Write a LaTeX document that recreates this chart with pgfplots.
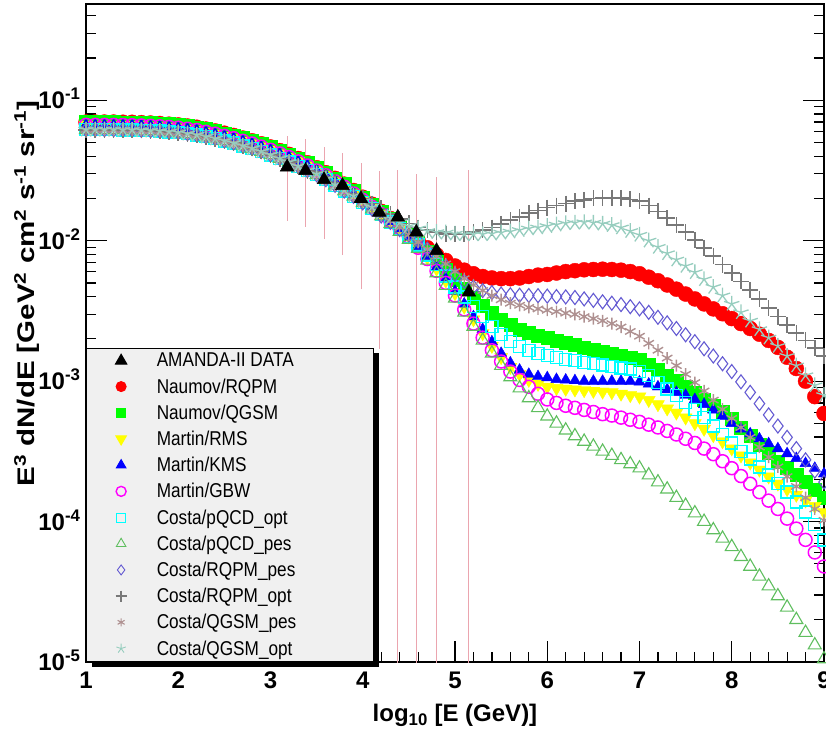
\documentclass[border=0pt]{standalone}
\usepackage{fontspec}
\setmainfont{Liberation Sans}
\usepackage{pgfplots}
\usepackage{pgfplotstable}
\pgfplotsset{compat=1.18}
\usetikzlibrary{shadows}
\definecolor{errpink}{RGB}{235,165,175}
\definecolor{lgray}{RGB}{240,240,240}
\definecolor{cred}{RGB}{255,0,0}
\definecolor{cgreen}{RGB}{0,255,0}
\definecolor{cyellow}{RGB}{255,255,0}
\definecolor{cblue}{RGB}{0,0,255}
\definecolor{cmagenta}{RGB}{255,0,255}
\definecolor{ccyan}{RGB}{0,255,255}
\definecolor{pqpcol}{RGB}{95,190,95}
\definecolor{rqpcol}{RGB}{100,90,210}
\definecolor{rqocol}{RGB}{120,120,120}
\definecolor{qgpcol}{RGB}{175,145,145}
\definecolor{qgocol}{RGB}{150,205,190}
\newcommand{\lt}[1]{\scalebox{0.86}[1]{#1}}
\pgfplotstableread{
x nr nq rms kms gbw pqo pqp rqp rqo qgp qgo
1.0 0.0700 0.0700 0.0668 0.0668 0.0668 0.0617 0.0617 0.0617 0.0617 0.0617 0.0617
1.1 0.0700 0.0700 0.0668 0.0668 0.0668 0.0617 0.0617 0.0617 0.0617 0.0617 0.0617
1.2 0.0700 0.0700 0.0668 0.0668 0.0668 0.0617 0.0617 0.0617 0.0617 0.0617 0.0617
1.3 0.0700 0.0700 0.0668 0.0668 0.0668 0.0617 0.0617 0.0617 0.0617 0.0617 0.0617
1.4 0.0698 0.0698 0.0667 0.0667 0.0667 0.0615 0.0615 0.0615 0.0615 0.0615 0.0615
1.5 0.0697 0.0697 0.0665 0.0665 0.0665 0.0614 0.0614 0.0614 0.0614 0.0614 0.0614
1.6 0.0693 0.0693 0.0662 0.0662 0.0662 0.0611 0.0611 0.0611 0.0611 0.0611 0.0611
1.7 0.0689 0.0689 0.0658 0.0658 0.0658 0.0607 0.0607 0.0607 0.0607 0.0607 0.0607
1.8 0.0684 0.0684 0.0653 0.0653 0.0653 0.0603 0.0603 0.0603 0.0603 0.0603 0.0603
1.9 0.0676 0.0676 0.0646 0.0646 0.0646 0.0596 0.0596 0.0596 0.0596 0.0596 0.0596
2.0 0.0668 0.0668 0.0638 0.0638 0.0638 0.0589 0.0589 0.0589 0.0589 0.0589 0.0589
2.1 0.0656 0.0656 0.0627 0.0627 0.0627 0.0578 0.0578 0.0578 0.0578 0.0578 0.0578
2.2 0.0643 0.0643 0.0614 0.0614 0.0614 0.0566 0.0566 0.0566 0.0566 0.0566 0.0566
2.3 0.0624 0.0624 0.0596 0.0596 0.0596 0.0550 0.0550 0.0550 0.0550 0.0550 0.0550
2.4 0.0605 0.0605 0.0578 0.0578 0.0578 0.0533 0.0533 0.0533 0.0533 0.0533 0.0533
2.5 0.0583 0.0583 0.0557 0.0557 0.0557 0.0514 0.0514 0.0514 0.0514 0.0514 0.0514
2.6 0.0562 0.0562 0.0537 0.0537 0.0537 0.0495 0.0495 0.0495 0.0495 0.0495 0.0495
2.7 0.0538 0.0538 0.0514 0.0514 0.0514 0.0474 0.0474 0.0474 0.0474 0.0474 0.0474
2.8 0.0515 0.0515 0.0492 0.0492 0.0492 0.0454 0.0454 0.0454 0.0454 0.0454 0.0454
2.9 0.0490 0.0490 0.0468 0.0468 0.0468 0.0432 0.0432 0.0432 0.0432 0.0432 0.0432
3.0 0.0465 0.0465 0.0444 0.0444 0.0444 0.0409 0.0409 0.0409 0.0409 0.0409 0.0409
3.1 0.0438 0.0438 0.0418 0.0418 0.0418 0.0385 0.0385 0.0385 0.0385 0.0385 0.0385
3.2 0.0412 0.0412 0.0394 0.0394 0.0394 0.0363 0.0363 0.0363 0.0363 0.0363 0.0363
3.3 0.0385 0.0385 0.0367 0.0367 0.0367 0.0339 0.0339 0.0339 0.0339 0.0339 0.0339
3.4 0.0359 0.0359 0.0343 0.0343 0.0343 0.0316 0.0316 0.0316 0.0316 0.0316 0.0316
3.5 0.0331 0.0331 0.0316 0.0316 0.0316 0.0295 0.0295 0.0295 0.0309 0.0295 0.0299
3.6 0.0305 0.0305 0.0292 0.0292 0.0292 0.0272 0.0272 0.0272 0.0285 0.0272 0.0275
3.7 0.0278 0.0278 0.0265 0.0265 0.0265 0.0248 0.0248 0.0248 0.0260 0.0248 0.0251
3.8 0.0253 0.0253 0.0242 0.0242 0.0242 0.0226 0.0226 0.0226 0.0237 0.0226 0.0229
3.9 0.0228 0.0228 0.0217 0.0217 0.0217 0.0207 0.0207 0.0207 0.0216 0.0207 0.0209
4.0 0.0204 0.0204 0.0195 0.0195 0.0195 0.0188 0.0186 0.0186 0.0200 0.0188 0.0191
4.1 0.0182 0.0182 0.0174 0.0174 0.0174 0.0170 0.0168 0.0168 0.0184 0.0170 0.0174
4.2 0.0162 0.0162 0.0155 0.0155 0.0155 0.0153 0.0150 0.0150 0.0170 0.0153 0.0158
4.3 0.0144 0.0144 0.0137 0.0137 0.0137 0.0136 0.0132 0.0135 0.0155 0.0138 0.0145
4.4 0.0127 0.0127 0.0122 0.0122 0.0122 0.0122 0.0116 0.0120 0.0143 0.0124 0.0135
4.5 0.0112 0.0112 0.0107 0.0107 0.0107 0.0107 0.0102 0.0110 0.0133 0.0110 0.0127
4.6 1.00e-2 9.66e-3 9.02e-3 9.12e-3 8.91e-3 9.33e-3 8.81e-3 1.00e-2 1.24e-2 9.77e-3 1.22e-2
4.7 8.91e-3 8.32e-3 7.59e-3 7.76e-3 7.41e-3 7.94e-3 7.24e-3 8.71e-3 1.19e-2 8.71e-3 1.17e-2
4.8 7.94e-3 7.16e-3 6.31e-3 6.46e-3 6.10e-3 6.76e-3 5.89e-3 7.59e-3 1.15e-2 7.76e-3 1.15e-2
4.9 7.24e-3 6.17e-3 5.19e-3 5.37e-3 5.01e-3 5.62e-3 4.79e-3 6.61e-3 1.12e-2 6.84e-3 1.14e-2
5.0 6.61e-3 5.31e-3 4.22e-3 4.37e-3 4.07e-3 4.68e-3 3.89e-3 5.75e-3 1.12e-2 6.03e-3 1.12e-2
5.1 6.17e-3 4.57e-3 3.39e-3 3.55e-3 3.24e-3 3.98e-3 3.09e-3 5.13e-3 1.12e-2 5.37e-3 1.11e-2
5.2 5.82e-3 3.94e-3 2.75e-3 2.88e-3 2.57e-3 3.39e-3 2.45e-3 4.68e-3 1.15e-2 4.84e-3 1.11e-2
5.3 5.56e-3 3.47e-3 2.19e-3 2.34e-3 2.04e-3 2.88e-3 1.95e-3 4.42e-3 1.19e-2 4.42e-3 1.11e-2
5.4 5.43e-3 3.09e-3 1.78e-3 1.91e-3 1.66e-3 2.45e-3 1.58e-3 4.27e-3 1.24e-2 4.07e-3 1.12e-2
5.5 5.37e-3 2.75e-3 1.48e-3 1.58e-3 1.38e-3 2.14e-3 1.29e-3 4.17e-3 1.32e-2 3.80e-3 1.14e-2
5.6 5.37e-3 2.51e-3 1.26e-3 1.35e-3 1.17e-3 1.91e-3 1.07e-3 4.12e-3 1.40e-2 3.59e-3 1.16e-2
5.7 5.43e-3 2.34e-3 1.12e-3 1.20e-3 1.02e-3 1.76e-3 8.91e-4 4.09e-3 1.48e-2 3.47e-3 1.19e-2
5.8 5.56e-3 2.21e-3 1.02e-3 1.12e-3 9.12e-4 1.66e-3 7.59e-4 4.07e-3 1.57e-2 3.35e-3 1.22e-2
5.9 5.69e-3 2.11e-3 9.55e-4 1.08e-3 8.13e-4 1.58e-3 6.46e-4 4.06e-3 1.64e-2 3.27e-3 1.24e-2
6.0 5.75e-3 2.04e-3 9.12e-4 1.06e-3 7.41e-4 1.53e-3 5.62e-4 4.03e-3 1.72e-2 3.20e-3 1.27e-2
6.1 5.89e-3 1.95e-3 8.91e-4 1.03e-3 7.00e-4 1.48e-3 5.01e-4 4.00e-3 1.78e-2 3.13e-3 1.30e-2
6.2 6.03e-3 1.88e-3 8.81e-4 1.02e-3 6.68e-4 1.43e-3 4.47e-4 3.98e-3 1.84e-2 3.05e-3 1.33e-2
6.3 6.12e-3 1.82e-3 8.71e-4 1.01e-3 6.46e-4 1.40e-3 4.07e-4 3.94e-3 1.91e-2 2.99e-3 1.34e-2
6.4 6.21e-3 1.74e-3 8.61e-4 1.00e-3 6.24e-4 1.36e-3 3.72e-4 3.85e-3 1.95e-2 2.88e-3 1.35e-2
6.5 6.24e-3 1.68e-3 8.51e-4 1.00e-3 6.03e-4 1.33e-3 3.43e-4 3.76e-3 2.00e-2 2.79e-3 1.34e-2
6.6 6.27e-3 1.62e-3 8.41e-4 1.00e-3 5.82e-4 1.30e-3 3.16e-4 3.67e-3 2.02e-2 2.69e-3 1.32e-2
6.7 6.24e-3 1.57e-3 8.32e-4 1.00e-3 5.69e-4 1.27e-3 2.95e-4 3.59e-3 2.03e-2 2.57e-3 1.29e-2
6.8 6.17e-3 1.51e-3 8.13e-4 1.00e-3 5.50e-4 1.24e-3 2.75e-4 3.51e-3 2.02e-2 2.43e-3 1.24e-2
6.9 6.03e-3 1.46e-3 7.94e-4 1.00e-3 5.31e-4 1.22e-3 2.57e-4 3.39e-3 1.97e-2 2.26e-3 1.17e-2
7.0 5.82e-3 1.41e-3 7.76e-4 9.89e-4 5.13e-4 1.17e-3 2.40e-4 3.27e-3 1.91e-2 2.09e-3 1.10e-2
7.1 5.50e-3 1.32e-3 7.33e-4 9.55e-4 4.90e-4 1.10e-3 2.14e-4 3.09e-3 1.78e-2 1.86e-3 1.00e-2
7.2 5.19e-3 1.20e-3 6.84e-4 9.12e-4 4.68e-4 9.77e-4 1.91e-4 2.85e-3 1.62e-2 1.66e-3 9.02e-3
7.3 4.84e-3 1.10e-3 6.38e-4 8.71e-4 4.42e-4 8.81e-4 1.70e-4 2.60e-3 1.45e-2 1.46e-3 8.13e-3
7.4 4.52e-3 1.00e-3 5.96e-4 8.32e-4 4.17e-4 7.94e-4 1.48e-4 2.37e-3 1.29e-2 1.29e-3 7.33e-3
7.5 4.17e-3 9.12e-4 5.50e-4 7.94e-4 3.89e-4 7.08e-4 1.30e-4 2.14e-3 1.15e-2 1.12e-3 6.61e-3
7.6 3.85e-3 8.22e-4 5.01e-4 7.41e-4 3.63e-4 6.31e-4 1.15e-4 1.91e-3 1.01e-2 9.77e-4 5.96e-3
7.7 3.55e-3 7.41e-4 4.57e-4 6.84e-4 3.31e-4 5.50e-4 1.00e-4 1.70e-3 8.91e-3 8.51e-4 5.31e-3
7.8 3.27e-3 6.68e-4 4.12e-4 6.24e-4 3.02e-4 4.79e-4 8.71e-5 1.51e-3 7.76e-3 7.33e-4 4.68e-3
7.9 3.02e-3 6.03e-4 3.72e-4 5.62e-4 2.69e-4 4.17e-4 7.59e-5 1.33e-3 6.76e-3 6.31e-4 4.07e-3
8.0 2.79e-3 5.37e-4 3.31e-4 5.01e-4 2.40e-4 3.63e-4 6.61e-5 1.17e-3 5.89e-3 5.43e-4 3.55e-3
8.1 2.57e-3 4.68e-4 2.95e-4 4.57e-4 2.11e-4 3.16e-4 5.62e-5 9.89e-4 5.13e-3 4.68e-4 3.09e-3
8.2 2.37e-3 4.07e-4 2.63e-4 4.22e-4 1.86e-4 2.79e-4 4.79e-5 8.32e-4 4.47e-3 3.98e-4 2.69e-3
8.3 2.16e-3 3.55e-4 2.34e-4 3.89e-4 1.62e-4 2.45e-4 4.07e-5 6.92e-4 3.85e-3 3.39e-4 2.34e-3
8.4 1.95e-3 3.09e-4 2.09e-4 3.59e-4 1.41e-4 2.14e-4 3.47e-5 5.75e-4 3.31e-3 2.88e-4 2.04e-3
8.5 1.74e-3 2.69e-4 1.86e-4 3.31e-4 1.23e-4 1.86e-4 2.95e-5 4.79e-4 2.88e-3 2.45e-4 1.78e-3
8.6 1.48e-3 2.40e-4 1.70e-4 3.05e-4 1.05e-4 1.62e-4 2.45e-5 3.98e-4 2.51e-3 2.09e-4 1.51e-3
8.7 1.23e-3 2.14e-4 1.55e-4 2.82e-4 8.91e-5 1.38e-4 2.00e-5 3.31e-4 2.21e-3 1.78e-4 1.29e-3
8.8 1.00e-3 1.91e-4 1.41e-4 2.60e-4 7.41e-5 1.17e-4 1.62e-5 2.75e-4 1.95e-3 1.48e-4 1.10e-3
8.9 7.76e-4 1.70e-4 1.29e-4 2.40e-4 6.03e-5 9.55e-5 1.32e-5 2.29e-4 1.72e-3 1.23e-4 9.33e-4
9.0 5.89e-4 1.48e-4 1.17e-4 2.19e-4 4.79e-5 7.41e-5 1.05e-5 1.91e-4 1.51e-3 1.02e-4 7.94e-4
}\tbl
\begin{document}
\begin{tikzpicture}
\begin{axis}[
  at={(86pt,76pt)}, anchor=south west,
  scale only axis, width=738pt, height=658pt,
  xmin=1, xmax=9, ymode=log, ymin=1e-5, ymax=0.485,
  xtick={1,2,3,4,5,6,7,8,9}, xticklabels={1,2,3,4,5,6,7,8,9},
  minor x tick num=4,
  ytick={1e-5,1e-4,1e-3,1e-2,1e-1},
  yticklabels={\textbf{10}\textsuperscript{\textbf{-5}},\textbf{10}\textsuperscript{\textbf{-4}},\textbf{10}\textsuperscript{\textbf{-3}},\textbf{10}\textsuperscript{\textbf{-2}},\textbf{10}\textsuperscript{\textbf{-1}}},
  minor ytick={2e-5,3e-5,4e-5,5e-5,6e-5,7e-5,8e-5,9e-5,2e-4,3e-4,4e-4,5e-4,6e-4,7e-4,8e-4,9e-4,2e-3,3e-3,4e-3,5e-3,6e-3,7e-3,8e-3,9e-3,2e-2,3e-2,4e-2,5e-2,6e-2,7e-2,8e-2,9e-2,2e-1,3e-1,4e-1},
  xtick pos=left, ytick pos=both,
  tick align=inside,
  major tick length=21pt, minor tick length=10pt,
  every tick/.style={black, line width=1.2pt},
  axis line style={line width=1.2pt},
  xticklabel style={font=\fontsize{24}{28}\selectfont\bfseries, yshift=-6pt},
  yticklabel style={font=\fontsize{24}{28}\selectfont, anchor=base east, yshift=-8.5pt, xshift=-2pt},
  xlabel={\textbf{log\textsubscript{10} [E (GeV)]}},
  xlabel style={font=\fontsize{24}{28}\selectfont, at={(axis description cs:0.5,-0.081)}, anchor=center},
  ylabel={\scalebox{1.23}[1]{\textbf{E\textsuperscript{3} dN/dE [GeV\textsuperscript{2} cm\textsuperscript{2} s\textsuperscript{-1} sr\textsuperscript{-1}]}}},
  ylabel style={font=\fontsize{24}{28}\selectfont, at={(axis description cs:-0.08,0.56)}, anchor=center},
  legend cell align=left,
  legend style={at={(0,0)}, anchor=south west, draw=black, line width=1pt, fill=lgray,
    font=\fontsize{20}{23}\selectfont, inner xsep=29pt, inner ysep=3pt, row sep=6.2pt, column sep=28pt,
    drop shadow={shadow xshift=5pt, shadow yshift=-5pt, fill=black, opacity=1}},
]
% AMANDA-II error bars
\addplot[forget plot, errpink, line width=0.8pt] coordinates {(3.18,0.0139) (3.18,0.0553)};
\addplot[forget plot, errpink, line width=0.8pt] coordinates {(3.38,0.0126) (3.38,0.0532)};
\addplot[forget plot, errpink, line width=0.8pt] coordinates {(3.58,0.0103) (3.58,0.0464)};
\addplot[forget plot, errpink, line width=0.8pt] coordinates {(3.78,0.0079) (3.78,0.0420)};
\addplot[forget plot, errpink, line width=0.8pt] coordinates {(3.98,0.0045) (3.98,0.0357)};
\addplot[forget plot, errpink, line width=0.8pt] coordinates {(4.18,0.0017) (4.18,0.0316)};
\addplot[forget plot, errpink, line width=0.8pt] coordinates {(4.38,1e-6) (4.38,0.0320)};
\addplot[forget plot, errpink, line width=0.8pt] coordinates {(4.58,1e-6) (4.58,0.0300)};
\addplot[forget plot, errpink, line width=0.8pt] coordinates {(4.80,1e-6) (4.80,0.0286)};
\addplot[forget plot, errpink, line width=0.8pt] coordinates {(5.15,1e-6) (5.15,0.0320)};
% models
\addplot[forget plot, only marks, mark=*, mark size=7.5pt, color=cred] table[x=x,y=nr]{\tbl};
\addplot[forget plot, only marks, mark=square*, mark size=6.5pt, color=cgreen] table[x=x,y=nq]{\tbl};
\addplot[forget plot, only marks, mark=triangle*, mark size=7.5pt, color=cyellow, mark options={rotate=180}] table[x=x,y=rms]{\tbl};
\addplot[forget plot, only marks, mark=triangle*, mark size=6.5pt, color=cblue] table[x=x,y=kms]{\tbl};
\addplot[forget plot, only marks, mark=o, mark size=6.5pt, color=cmagenta, line width=1.5pt] table[x=x,y=gbw]{\tbl};
\addplot[forget plot, only marks, mark=square, mark size=6pt, color=ccyan, line width=1.4pt] table[x=x,y=pqo]{\tbl};
\addplot[forget plot, only marks, mark=triangle, mark size=7.5pt, color=pqpcol, line width=1.1pt] table[x=x,y=pqp]{\tbl};
\addplot[forget plot, only marks, mark=diamond, mark size=7pt, color=rqpcol, line width=1.1pt] table[x=x,y=rqp]{\tbl};
\addplot[forget plot, only marks, mark=+, mark size=8pt, color=rqocol, line width=1.6pt] table[x=x,y=rqo]{\tbl};
\addplot[forget plot, only marks, mark=asterisk, mark size=6pt, color=qgpcol, line width=1.4pt] table[x=x,y=qgp]{\tbl};
\addplot[forget plot, only marks, mark=star, mark size=8pt, color=qgocol, line width=1.3pt] table[x=x,y=qgo]{\tbl};
% AMANDA-II data
\addplot[forget plot, only marks, mark=triangle*, mark size=8pt, black] coordinates {(3.18,0.0334) (3.38,0.0316) (3.58,0.0272) (3.78,0.0247) (3.98,0.0199) (4.18,0.0159) (4.38,0.0147) (4.58,0.0115) (4.80,0.0085) (5.15,0.0043)};
% legend
\addlegendimage{only marks, mark=triangle*, mark size=6.5pt, black}
\addlegendentry{\makebox[186pt][l]{\lt{AMANDA-II DATA}}}
\addlegendimage{only marks, mark=*, mark size=5pt, color=cred}
\addlegendentry{\lt{Naumov/RQPM}}
\addlegendimage{only marks, mark=square*, mark size=4.5pt, color=cgreen}
\addlegendentry{\lt{Naumov/QGSM}}
\addlegendimage{only marks, mark=triangle*, mark size=6pt, color=cyellow, mark options={rotate=180}}
\addlegendentry{\lt{Martin/RMS}}
\addlegendimage{only marks, mark=triangle*, mark size=5.5pt, color=cblue}
\addlegendentry{\lt{Martin/KMS}}
\addlegendimage{only marks, mark=o, mark size=5pt, color=cmagenta, line width=1.4pt}
\addlegendentry{\lt{Martin/GBW}}
\addlegendimage{only marks, mark=square, mark size=4.5pt, color=ccyan, line width=1.1pt}
\addlegendentry{\lt{Costa/pQCD\_opt}}
\addlegendimage{only marks, mark=triangle, mark size=5.5pt, color=pqpcol, line width=0.9pt}
\addlegendentry{\lt{Costa/pQCD\_pes}}
\addlegendimage{only marks, mark=diamond, mark size=5pt, color=rqpcol, line width=0.9pt}
\addlegendentry{\lt{Costa/RQPM\_pes}}
\addlegendimage{only marks, mark=+, mark size=5.5pt, color=rqocol, line width=1.3pt}
\addlegendentry{\lt{Costa/RQPM\_opt}}
\addlegendimage{only marks, mark=asterisk, mark size=4pt, color=qgpcol, line width=1.1pt}
\addlegendentry{\lt{Costa/QGSM\_pes}}
\addlegendimage{only marks, mark=star, mark size=5pt, color=qgocol, line width=0.9pt}
\addlegendentry{\lt{Costa/QGSM\_opt}}
\end{axis}
\pgfresetboundingbox
\path[use as bounding box] (0,0) rectangle (826pt,738pt);
\end{tikzpicture}
\end{document}
